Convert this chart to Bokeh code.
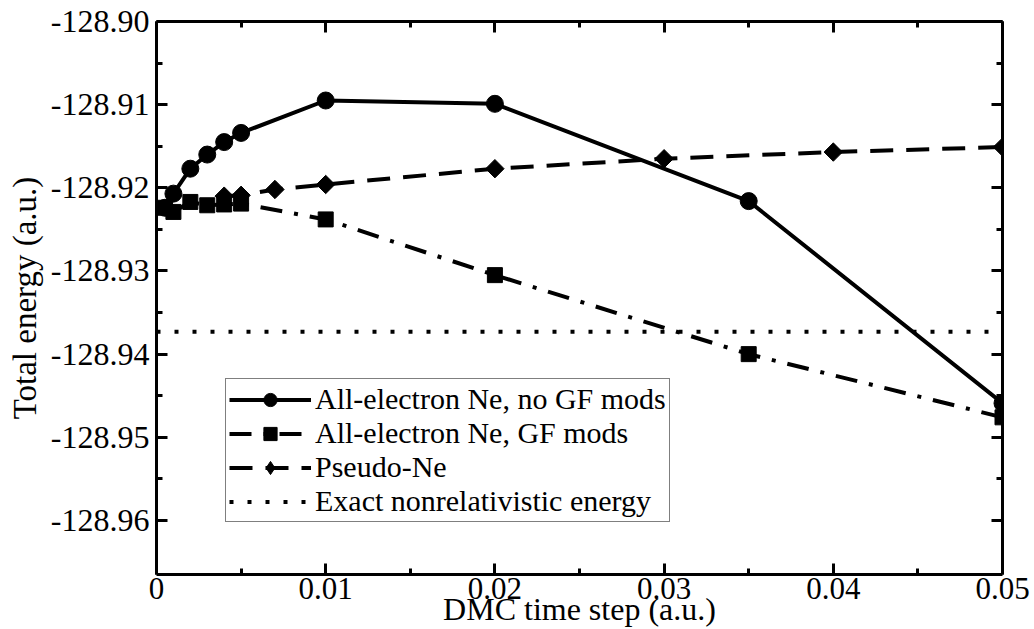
import numpy as np
from bokeh.plotting import figure
from bokeh.models import LinearAxis, FixedTicker, Legend, LegendItem, Range1d, CustomLabelingPolicy
from bokeh.embed import file_html
from bokeh.resources import INLINE

# ---- data ----
noGF_dt = [0.0005, 0.001, 0.002, 0.003, 0.004, 0.005, 0.01, 0.02, 0.035, 0.05]
noGF_E = [-128.9224, -128.9207, -128.9177, -128.9160, -128.9145, -128.9134,
          -128.9095, -128.9099, -128.9216, -128.9459]
GF_dt = [0.0005, 0.001, 0.002, 0.003, 0.004, 0.005, 0.01, 0.02, 0.035, 0.05]
GF_E = [-128.9224, -128.9229, -128.9217, -128.9221, -128.9220, -128.9219,
        -128.9238, -128.9305, -128.9400, -128.9476]
pseudo_dt = [0.004, 0.005, 0.007, 0.01, 0.02, 0.03, 0.04, 0.05]
pseudo_E = [-128.9210, -128.9209, -128.9202, -128.9196, -128.9177, -128.9165,
            -128.9157, -128.9151]
exact_dt = [0.0, 0.05]
exact_E = [-128.9373, -128.9373]

x_major = [0.0, 0.01, 0.02, 0.03, 0.04, 0.05]
x_minor = [0.005, 0.015, 0.025, 0.035, 0.045]
y_major = [-128.96, -128.95, -128.94, -128.93, -128.92, -128.91, -128.90]
y_minor = [-128.955, -128.945, -128.935, -128.925, -128.915, -128.905]
x_labels = {0.0: "0", 0.01: "0.01", 0.02: "0.02", 0.03: "0.03", 0.04: "0.04", 0.05: "0.05"}
y_labels = {v: "%.2f" % v for v in y_major}

FONT = "'Liberation Serif', 'Times New Roman', serif"

p = figure(width=1034, height=629,
           x_range=Range1d(0.0, 0.05), y_range=Range1d(-128.9665, -128.90),
           output_backend="svg", toolbar_location=None,
           min_border_left=156, min_border_right=32, min_border_top=21, min_border_bottom=52,
           x_axis_label="DMC time step (a.u.)", y_axis_label="Total energy (a.u.)")
p.xgrid.visible = False
p.ygrid.visible = False
p.outline_line_color = None
p.background_fill_color = "white"
p.border_fill_color = "white"

NO_LABELS = CustomLabelingPolicy(code="""
try {
  const r = indices.clone()
  for (const i of indices) { r.unset(i) }
  return r
} catch (e) {
  return indices
}
""")


def style_axis(ax, ticks, minor, labels, show_labels=True):
    ax.ticker = FixedTicker(ticks=ticks, minor_ticks=minor)
    ax.axis_line_width = 3
    ax.axis_line_color = "black"
    ax.major_tick_in = 11
    ax.major_tick_out = 0
    ax.minor_tick_in = 6
    ax.minor_tick_out = 0
    ax.major_tick_line_width = 3
    ax.minor_tick_line_width = 3
    ax.major_label_overrides = labels
    ax.major_label_text_font = FONT
    ax.major_label_text_color = "black"
    ax.axis_label_text_font = FONT
    ax.axis_label_text_font_style = "normal"
    ax.axis_label_text_color = "black"
    if not show_labels:
        ax.major_label_policy = NO_LABELS
        ax.major_label_text_font_size = "0px"
        ax.major_label_standoff = 0


xa = p.xaxis[0]
style_axis(xa, x_major, x_minor, x_labels)
xa.major_label_text_font_size = "31px"
xa.major_label_standoff = 3
xa.axis_label_text_font_size = "32px"
xa.axis_label_standoff = -11

ya = p.yaxis[0]
style_axis(ya, y_major, y_minor, y_labels)
ya.major_label_text_font_size = "32px"
ya.major_label_standoff = 7
ya.axis_label_text_font_size = "33px"
ya.axis_label_standoff = 5

top = LinearAxis()
style_axis(top, x_major, x_minor, x_labels, show_labels=False)
p.add_layout(top, "above")
right = LinearAxis()
style_axis(right, y_major, y_minor, y_labels, show_labels=False)
p.add_layout(right, "right")

# ---- series ----
LW = 4
r_ex = p.line(exact_dt, exact_E, line_color="black", line_width=LW, line_dash="4 14")

r_gf_l = p.line(GF_dt, GF_E, line_color="black", line_width=LW, line_dash="22 12 4 12")
r_gf_m = p.scatter(GF_dt, GF_E, marker="square", size=15, color="black")

r_ps_l = p.line(pseudo_dt, pseudo_E, line_color="black", line_width=LW, line_dash="23 13")
r_ps_m = p.scatter(pseudo_dt, pseudo_E, marker="square", angle=np.pi / 4, size=13, color="black")
# hidden copy used only for the legend swatch (legend glyphs ignore marker rotation)
r_ps_leg = p.scatter(pseudo_dt, pseudo_E, marker="diamond", size=24, color="black", visible=False)

r_no_l = p.line(noGF_dt, noGF_E, line_color="black", line_width=LW)
r_no_m = p.scatter(noGF_dt, noGF_E, marker="circle", size=17, color="black")

legend = Legend(items=[
    LegendItem(label="All-electron Ne, no GF mods", renderers=[r_no_l, r_no_m]),
    LegendItem(label="All-electron Ne, GF mods", renderers=[r_gf_l, r_gf_m]),
    LegendItem(label="Pseudo-Ne", renderers=[r_ps_l, r_ps_leg]),
    LegendItem(label="Exact nonrelativistic energy", renderers=[r_ex]),
], location=(69, 52))
legend.click_policy = "none"
legend.inactive_fill_alpha = 0.0
legend.label_text_font = FONT
legend.label_text_font_size = "30px"
legend.label_text_color = "black"
legend.label_height = 33
legend.glyph_height = 33
legend.glyph_width = 82
legend.label_standoff = 4
legend.spacing = 0
legend.padding = 3
legend.margin = 0
legend.border_line_color = "black"
legend.border_line_width = 1.5
legend.background_fill_alpha = 1.0
p.add_layout(legend, "center")

open("out.html", "w").write(file_html(p, INLINE))
